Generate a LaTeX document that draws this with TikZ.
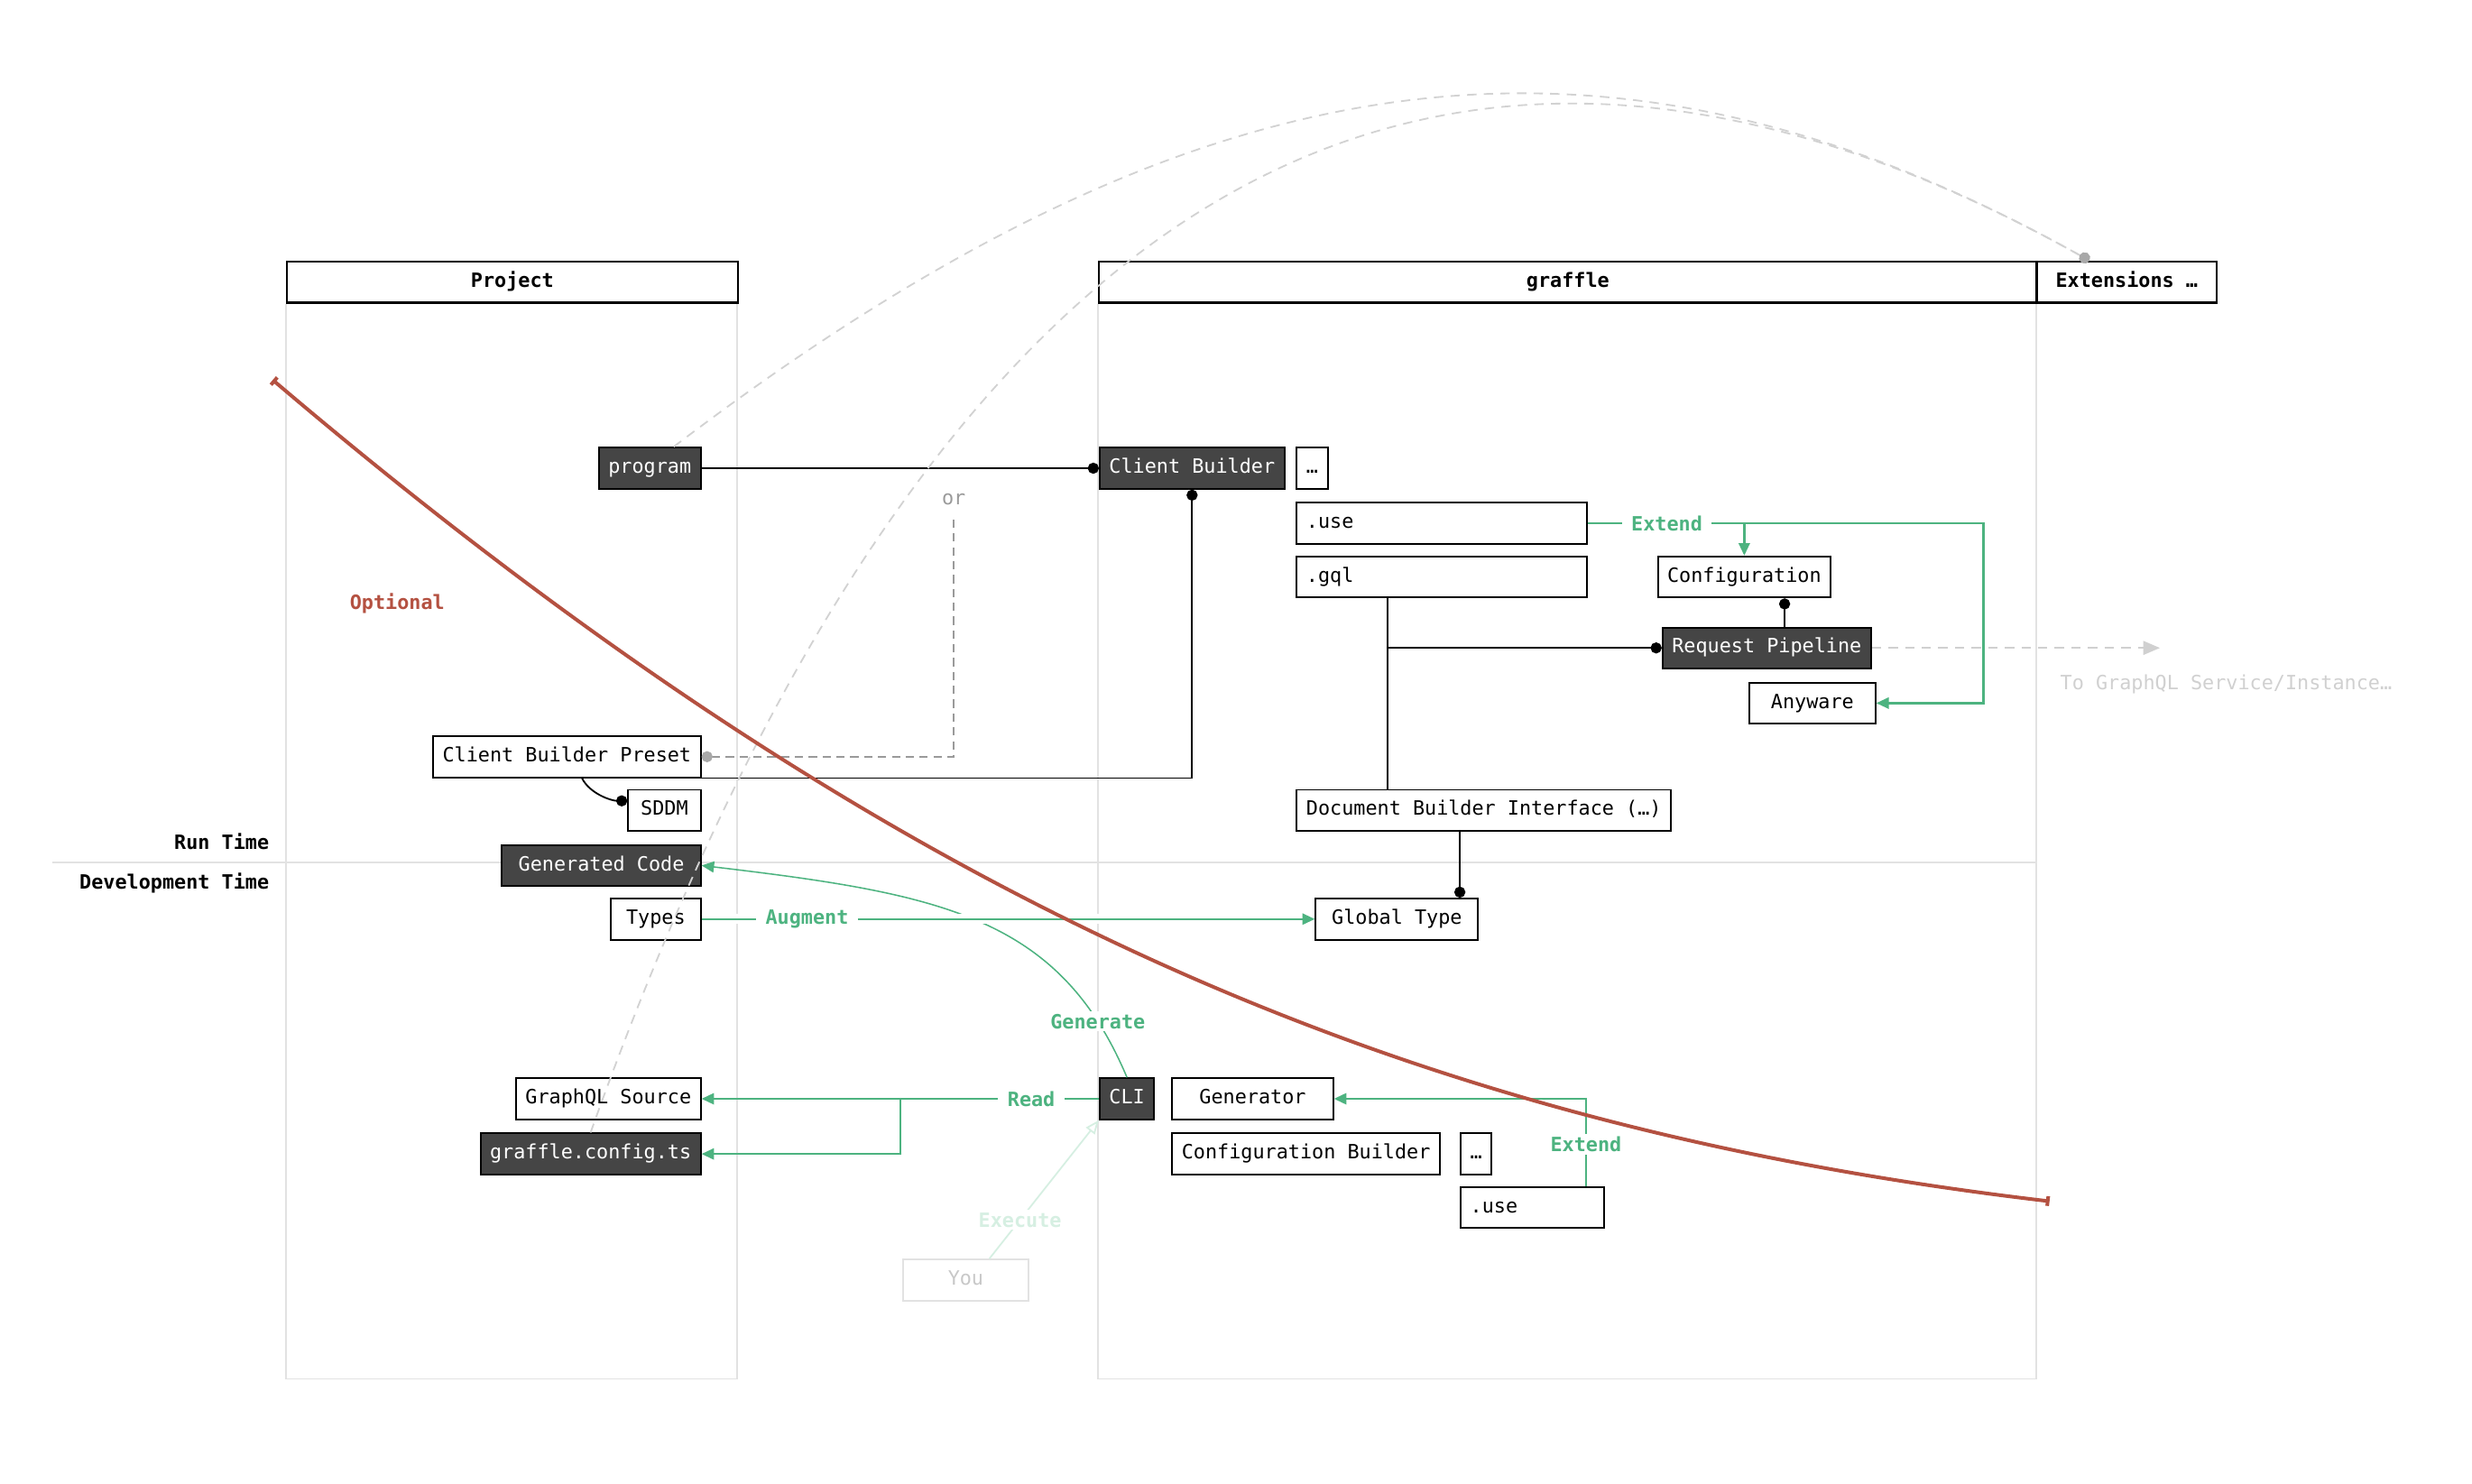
\documentclass[tikz,border=0pt]{standalone}
\usepackage{fontspec}
\newfontfamily\dmono{DejaVu Sans Mono}
\usetikzlibrary{arrows.meta,calc}

\definecolor{boxdark}{HTML}{454545}
\definecolor{extgreen}{HTML}{4DB380}
\definecolor{optred}{HTML}{B45141}
\definecolor{lanegray}{HTML}{E2E2E2}
\definecolor{arcgray}{HTML}{D2D2D2}
\definecolor{dotgray}{HTML}{A8A8A8}
\definecolor{orgray}{HTML}{9A9A9A}
\definecolor{svcgray}{HTML}{D0D0D0}
\definecolor{yougray}{HTML}{C8C8C8}
\definecolor{faintgreen}{HTML}{D6EFE2}
\newcommand{\dfont}{\dmono\fontsize{7.1pt}{8.5pt}\selectfont}

\tikzset{
 box/.style={draw, line width=0.65pt, fill=white, minimum height=0.52cm, inner xsep=0.12cm, inner ysep=0pt, text height=5.3pt, text depth=1.6pt, font=\dfont},
 darkbox/.style={box, fill=boxdark, text=white},
 leftbox/.style={box, text width=#1, align=left},
 lanehead/.style={draw, line width=0.8pt, fill=white, minimum height=0.52cm, inner sep=0pt, text height=5.3pt, text depth=1.6pt, font=\dfont\bfseries},
 lane/.style={lanegray, line width=0.6pt},
 link/.style={line width=0.6pt},
 dot/.style={-{Circle[length=4pt]}},
 ext/.style={extgreen, line width=0.8pt, -{Triangle[length=4.5pt,width=4pt]}},
 lbl/.style={fill=white, inner xsep=0.12cm, inner ysep=1pt, font=\dfont\bfseries, text=extgreen},
 arcline/.style={arcgray, line width=0.6pt, dash pattern=on 3.4pt off 2.6pt, -{Circle[length=4pt,color=dotgray]}},
 ordash/.style={orgray, line width=0.6pt, dash pattern=on 3pt off 2pt, {Circle[length=4pt,color=dotgray]}-},
 svcline/.style={svcgray, line width=0.6pt, dash pattern=on 3.4pt off 2.6pt, -{Triangle[length=6pt,width=5pt,color=svcgray]}},
 faintext/.style={faintgreen, line width=0.6pt, -{Triangle[open,length=5pt,width=4pt]}},
 gencurve/.style={extgreen, line width=0.5pt, -{Triangle[length=4.5pt,width=4pt]}},
 optline/.style={optred, line width=1.3pt, {Bar[width=3.5pt]}-{Bar[width=3.5pt]}},
}

\begin{document}
\begin{tikzpicture}[x=0.02cm, y=-0.02cm]
 \useasboundingbox (0,0) rectangle (1568,941);

 % lanes
 \node[lanehead, minimum width=5.72cm] (hproj) at (325,179) {Project};
 \node[lanehead, minimum width=11.9cm] (hgraf) at (994.5,179) {graffle};
 \node[lanehead, minimum width=2.28cm] (hext) at (1349,179) {Extensions …};
 \draw[lane] (hproj.south west) -- ++(0,682) -- ++(286,0) -- ++(0,-682);
 \draw[lane] (hgraf.south west) -- ++(0,682) -- ++(595,0) -- ++(0,-682);
 \draw[lane] (33,547) -- (1292,547);
 \node[font=\dfont\bfseries, anchor=east, inner sep=0pt] (runt) at (171,534) {Run Time};
 \node[font=\dfont\bfseries, anchor=east, inner sep=0pt] (devt) at (171,560) {Development Time};

 % project
 \node[darkbox, anchor=east] (prog) at (445,297) {program};
 \node[box, anchor=east] (cbp) at (445,480) {Client Builder Preset};
 \node[box, anchor=east, minimum width=0.92cm] (sddm) at (445,514) {SDDM};
 \node[darkbox, anchor=east, minimum width=2.52cm] (gencode) at (445,549) {Generated Code};
 \node[box, anchor=east, minimum width=1.14cm] (types) at (445,583) {Types};
 \node[box, anchor=east] (gqlsrc) at (445,697) {GraphQL Source};
 \node[darkbox, anchor=east] (config) at (445,732) {graffle.config.ts};

 % graffle
 \node[darkbox, anchor=west] (cb) at (697,297) {Client Builder};
 \node[box, anchor=west] (cbmore) at (822,297) {…};
 \node[leftbox=3.44cm, anchor=west] (use) at (822,332) {.use};
 \node[leftbox=3.44cm, anchor=west] (gql) at (822,366) {.gql};
 \node[box, anchor=west] (conf) at (1051,366) {Configuration};
 \node[darkbox, anchor=west] (rp) at (1054,411) {Request Pipeline};
 \node[box, anchor=west, minimum width=1.6cm] (anyw) at (1109,446) {Anyware};
 \node[box, anchor=west] (dbi) at (822,514) {Document Builder Interface (…)};
 \node[box, anchor=west, minimum width=2.06cm] (gtype) at (834,583) {Global Type};
 \node[darkbox, anchor=west] (cli) at (697,697) {CLI};
 \node[box, anchor=west, minimum width=2.04cm] (gen) at (743,697) {Generator};
 \node[box, anchor=west] (confb) at (743,732) {Configuration Builder};
 \node[box, anchor=west] (confbmore) at (926,732) {…};
 \node[leftbox=1.58cm, anchor=west] (use2) at (926,766) {.use};
 \node[box, anchor=west, minimum width=1.6cm, draw=lanegray, text=yougray] (you) at (572,812) {You};

 % run time wiring
 \node[font=\dfont, text=orgray, fill=white, inner sep=1pt] (ortxt) at (605,317) {or};
 \draw[link, dot] (prog) -- (cb);
 \draw[link, dot] (cbp.south east) -| (cb.south);
 \draw[ordash, shorten >=0.12cm] (cbp.east) -| (ortxt.south);
 \draw[link, dot] ([xshift=1.9cm]cbp.south west) .. controls +(5,10) and +(-10,0) .. ([yshift=0.12cm]sddm.west);
 \coordinate (confpin) at ([xshift=1.62cm]conf.south west);
 \draw[link, {Circle[length=4pt]}-] (confpin) -- (confpin |- rp.north);
 \coordinate (gqlpin) at ([xshift=1.16cm]gql.south west);
 \draw[link] (gqlpin) -- (gqlpin |- dbi.north);
 \draw[link, dot] (gqlpin |- rp.west) -- (rp.west);
 \coordinate (dbipin) at ([xshift=2.08cm]dbi.south west);
 \draw[link, dot] (dbipin) -- (dbipin |- gtype.north);
 \coordinate (svc) at (1370,411);
 \draw[svcline] (rp) -- (svc);
 \node[font=\dfont, text=svcgray] (svclbl) at (1412,434) {To GraphQL Service/Instance…};

 % extend / generate
 \draw[ext] (use.east) -- node[lbl, pos=0.2] (extl1) {Extend} ++(251,0) |- (anyw.east);
 \draw[ext] (use.east -| conf.north) -- (conf.north);
 \draw[gencurve] (cli.north) .. controls +(-43,-102) and +(152,18) .. (gencode.east) node[lbl, pos=0.13] (genl) {Generate};
 \draw[white, line width=3.5pt] (types) -- (gtype);
 \draw[ext] (types) -- node[lbl, pos=0.172] (augl) {Augment} (gtype);
 \draw[ext] (cli) -- node[lbl, pos=0.17] (readl) {Read} (gqlsrc);
 \coordinate (readsplit) at ($(cli.west)!0.5!(gqlsrc.east)$);
 \draw[ext] (readsplit) |- (config.east);
 \coordinate (genpin) at ([xshift=1.6cm]use2.north west);
 \draw[ext] (genpin) |- node[lbl, pos=0.24] (extl2) {Extend} (gen.east);
 \draw[faintext] ([xshift=0.3cm]you.north) -- node[lbl, text=faintgreen, pos=0.28] (execl) {Execute} (cli.south west);

 % extensions arcs
 \coordinate (extpin) at ([xshift=0.68cm]hext.north west);
 \draw[arcline] ([xshift=0.96cm]prog.north west) .. controls +(330,-251) and +(-310,-173) .. (extpin);
 \draw[arcline] (config.north) .. controls +(235,-659) and +(-380,-212) .. (extpin);

 % optional
 \coordinate (optA) at (173,241);
 \coordinate (optB) at (1300,762);
 \draw[optline] (optA) .. controls (573,581) and (900,715) .. (optB);
 \node[font=\dfont\bfseries, text=optred] (optl) at (252,383) {Optional};
\end{tikzpicture}
\end{document}
